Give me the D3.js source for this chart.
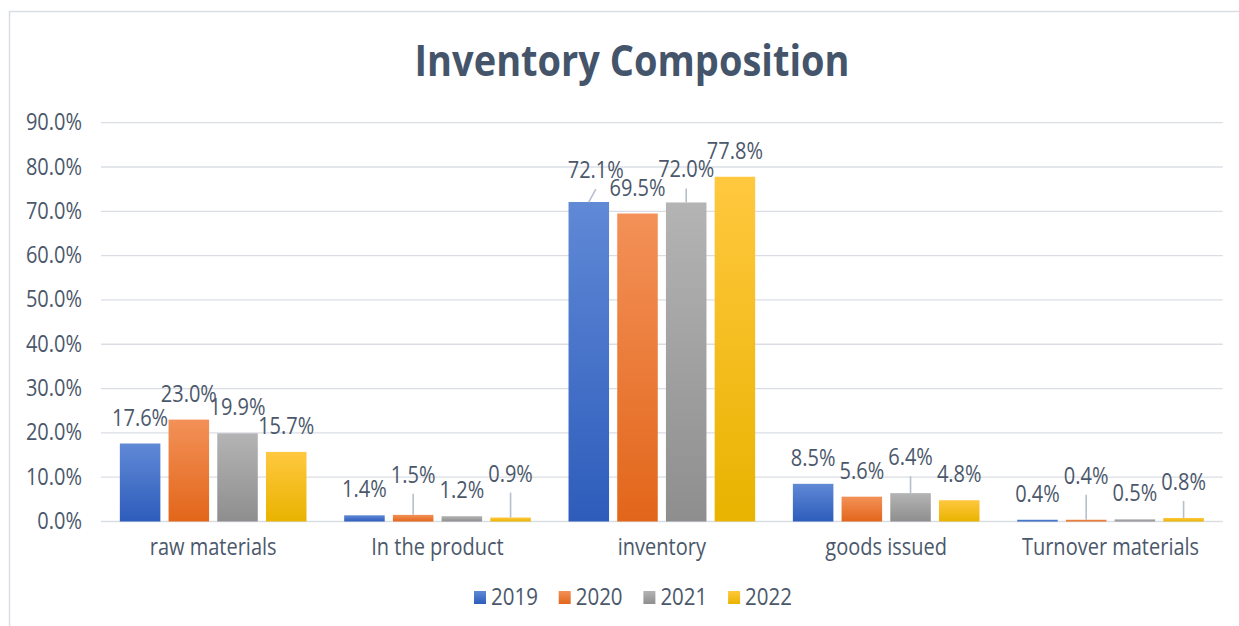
<!DOCTYPE html>
<html>
<head>
<meta charset="utf-8">
<script src="https://cdn.jsdelivr.net/npm/d3@7/dist/d3.min.js"></script>
<style>
  html, body { margin: 0; padding: 0; background: #fff; }
  text { font-family: "Open Sans", "Noto Sans", sans-serif; }
</style>
</head>
<body>
<div id="chart-area"></div>
<script>
// Data
const categories = ['raw materials', 'In the product', 'inventory', 'goods issued', 'Turnover materials'];
const years = ['2019', '2020', '2021', '2022'];
const v2019 = [17.6, 1.4, 72.1, 8.5, 0.4];
const v2020 = [23.0, 1.5, 69.5, 5.6, 0.4];
const v2021 = [19.9, 1.2, 72.0, 6.4, 0.5];
const v2022 = [15.7, 0.9, 77.8, 4.8, 0.8];
const yTicks = [0, 10, 20, 30, 40, 50, 60, 70, 80, 90];

// Label nudges where the labels were moved off the bar (category, year -> px)
const labelNudge = {
    '1-1': { dx: 0, dy: -14 },
    '1-3': { dx: 0, dy: -18 },
    '2-0': { dx: 7, dy: -6 },
    '2-2': { dx: 0, dy: -7 },
    '3-2': { dx: 0, dy: -10 },
    '4-1': { dx: 0, dy: -18 },
    '4-3': { dx: 0, dy: -10 }
};

const seriesValues = [v2019, v2020, v2021, v2022];
const colors = [
    { top: '#6089d6', bottom: '#2d5cbb' },
    { top: '#f39158', bottom: '#e2661a' },
    { top: '#b4b4b4', bottom: '#8e8e8e' },
    { top: '#ffc83f', bottom: '#e9b300' }
];
const textColor = '#4b586b';
const sy = 1.15; // text looks vertically stretched in the reference

const W = 1239, H = 626;
const plot = { left: 101, right: 1222.7, top: 122.7, bottom: 521.5 };

const svg = d3.select('#chart-area')
    .append('svg')
        .attr('width', W)
        .attr('height', H);

// Gradients
const defs = svg.append('defs');
colors.forEach((c, i) => {
    const grad = defs.append('linearGradient')
        .attr('id', 'grad' + i)
        .attr('x1', 0).attr('y1', 0).attr('x2', 0).attr('y2', 1);
    grad.append('stop').attr('offset', '0%').attr('stop-color', c.top);
    grad.append('stop').attr('offset', '100%').attr('stop-color', c.bottom);
});

// Frame
svg.append('rect')
    .attr('x', 9.5)
    .attr('y', 11.5)
    .attr('width', 1400)
    .attr('height', 800)
    .attr('fill', '#fff')
    .attr('stroke', '#d9dee4')
    .attr('stroke-width', 1.5);

// helper: text stretched vertically around its baseline
const putText = (sel, x, y) => sel.attr('transform', 'translate(' + x + ',' + y + ') scale(1,' + sy + ')');

// Title
putText(svg.append('text'), 632, 76)
    .attr('text-anchor', 'middle')
    .attr('font-size', '38px')
    .attr('font-weight', 'bold')
    .attr('fill', '#44546a')
    .text('Inventory Composition');

// Scales
const y = d3.scaleLinear()
    .domain([0, 90])
    .range([plot.bottom, plot.top]);

const x0 = d3.scaleBand()
    .domain(categories)
    .range([plot.left, plot.right])
    .padding(0);

const x1 = d3.scaleBand()
    .domain(years)
    .range([0, x0.bandwidth()])
    .paddingInner(0.168)
    .paddingOuter(0.387);

// Gridlines
svg.append('g')
    .selectAll('line')
    .data(yTicks)
    .enter().append('line')
        .attr('x1', plot.left)
        .attr('x2', plot.right)
        .attr('y1', (d) => y(d))
        .attr('y2', (d) => y(d))
        .attr('stroke', '#dadee4')
        .attr('stroke-width', 1.3);

// Y tick labels
svg.append('g')
    .selectAll('text')
    .data(yTicks)
    .enter().append('text')
        .each(function (d) { putText(d3.select(this), 82, y(d) + 7.5); })
        .attr('text-anchor', 'end')
        .attr('font-size', '20px')
        .attr('fill', textColor)
        .text((d) => d.toFixed(1) + '%');

// X category labels
svg.append('g')
    .selectAll('text')
    .data(categories)
    .enter().append('text')
        .each(function (d) { putText(d3.select(this), x0(d) + x0.bandwidth() / 2, 555); })
        .attr('text-anchor', 'middle')
        .attr('font-size', '20px')
        .attr('fill', textColor)
        .text((d) => d);

// Flatten into bar records
const bars = [];
categories.forEach((cat, ci) => {
    years.forEach((yr, si) => {
        bars.push({ cat: cat, ci: ci, year: yr, si: si, value: seriesValues[si][ci] });
    });
});

// Bars
svg.append('g')
    .selectAll('rect')
    .data(bars)
    .enter().append('rect')
        .attr('x', (d) => x0(d.cat) + x1(d.year))
        .attr('width', x1.bandwidth())
        .attr('y', (d) => y(d.value))
        .attr('height', (d) => y(0) - y(d.value))
        .attr('fill', (d) => 'url(#grad' + d.si + ')');

// Data labels + leader lines
const labelG = svg.append('g');
bars.forEach((d) => {
    const cx = x0(d.cat) + x1(d.year) + x1.bandwidth() / 2;
    const top = y(d.value);
    const nudge = labelNudge[d.ci + '-' + d.si] || { dx: 0, dy: 0 };
    const lx = cx + nudge.dx;
    const ly = top - 18 + nudge.dy;

    if (nudge.dy !== 0) {
        labelG.append('line')
            .attr('x1', lx)
            .attr('y1', ly + 11)
            .attr('x2', cx)
            .attr('y2', top)
            .attr('stroke', '#b6c0cc')
            .attr('stroke-width', 1.6);
    }

    putText(labelG.append('text'), lx, ly)
        .attr('text-anchor', 'middle')
        .attr('font-size', '20px')
        .attr('fill', textColor)
        .text(d.value.toFixed(1) + '%');
});

// Legend
const legend = svg.append('g');
years.forEach((yr, i) => {
    const lx = 474 + i * 84.7;
    legend.append('rect')
        .attr('x', lx)
        .attr('y', 591)
        .attr('width', 12)
        .attr('height', 13)
        .attr('fill', 'url(#grad' + i + ')');
    putText(legend.append('text'), lx + 17, 605)
        .attr('font-size', '20.5px')
        .attr('fill', textColor)
        .text(yr);
});
</script>
</body>
</html>
